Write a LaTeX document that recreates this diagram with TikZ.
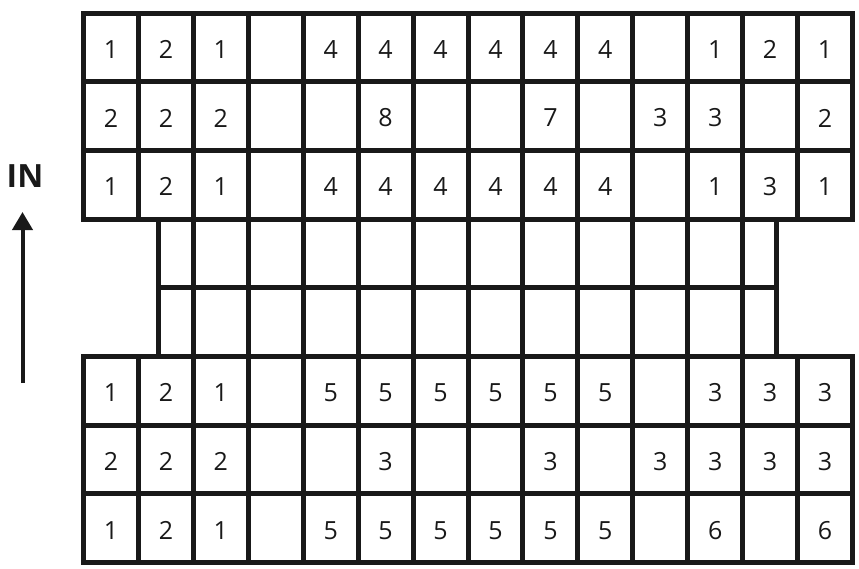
\documentclass[tikz,border=0pt]{standalone}
\usepackage{fontspec}
\setmainfont{Open Sans}
\usetikzlibrary{arrows.meta}
\begin{document}
\begin{tikzpicture}[x=1pt,y=-1pt,
  gridline/.style={line width=5pt, line cap=rect, color=black!90},
  num/.style={font=\fontsize{25}{25}\selectfont, inner sep=0pt, text=black!90}]
\useasboundingbox (0,0) rectangle (859,568);
\def\cw{54.93}
\def\rh{68.7}
\def\xo{83.5}
\def\yo{13}
% top block
\foreach \i in {0,...,14}
  \draw[gridline] ({\xo+\i*\cw},\yo) -- ({\xo+\i*\cw},{\yo+3*\rh});
\foreach \j in {0,...,3}
  \draw[gridline] (\xo,{\yo+\j*\rh}) -- ({\xo+14*\cw},{\yo+\j*\rh});
% middle block
\foreach \i in {2,...,12}
  \draw[gridline] ({\xo+\i*\cw},{\yo+3*\rh}) -- ({\xo+\i*\cw},{\yo+5*\rh});
\draw[gridline] (158.5,{\yo+3*\rh}) -- (158.5,{\yo+5*\rh});
\draw[gridline] (776.5,{\yo+3*\rh}) -- (776.5,{\yo+5*\rh});
\draw[gridline] (158.5,{\yo+4*\rh}) -- (776.5,{\yo+4*\rh});
% bottom block
\foreach \i in {0,...,14}
  \draw[gridline] ({\xo+\i*\cw},{\yo+5*\rh}) -- ({\xo+\i*\cw},{\yo+8*\rh});
\foreach \j in {5,...,8}
  \draw[gridline] (\xo,{\yo+\j*\rh}) -- ({\xo+14*\cw},{\yo+\j*\rh});
% numbers
\foreach \c/\v in {1/1,2/2,3/1,5/4,6/4,7/4,8/4,9/4,10/4,12/1,13/2,14/1}
  \node[num] (n1-\c) at ({\xo+(\c-0.5)*\cw},{\yo+0.5*\rh+2}) {\v};
\foreach \c/\v in {1/2,2/2,3/2,6/8,9/7,11/3,12/3,14/2}
  \node[num] (n2-\c) at ({\xo+(\c-0.5)*\cw},{\yo+1.5*\rh+2}) {\v};
\foreach \c/\v in {1/1,2/2,3/1,5/4,6/4,7/4,8/4,9/4,10/4,12/1,13/3,14/1}
  \node[num] (n3-\c) at ({\xo+(\c-0.5)*\cw},{\yo+2.5*\rh+2}) {\v};
\foreach \c/\v in {1/1,2/2,3/1,5/5,6/5,7/5,8/5,9/5,10/5,12/3,13/3,14/3}
  \node[num] (n6-\c) at ({\xo+(\c-0.5)*\cw},{\yo+5.5*\rh+2}) {\v};
\foreach \c/\v in {1/2,2/2,3/2,6/3,9/3,11/3,12/3,13/3,14/3}
  \node[num] (n7-\c) at ({\xo+(\c-0.5)*\cw},{\yo+6.5*\rh+2}) {\v};
\foreach \c/\v in {1/1,2/2,3/1,5/5,6/5,7/5,8/5,9/5,10/5,12/6,14/6}
  \node[num] (n8-\c) at ({\xo+(\c-0.5)*\cw},{\yo+7.5*\rh+2}) {\v};
% IN arrow
\node[font=\bfseries\fontsize{32}{32}\selectfont, inner sep=0pt, text=black!90] (inlabel) at (25,176.5) {IN};
\coordinate (arrowbot) at (22.5,383);
\coordinate (arrowtop) at (22.5,212);
\draw[line width=4pt, color=black!90, -{Triangle[length=18pt,width=20pt]}] (arrowbot) -- (arrowtop);
\end{tikzpicture}
\end{document}
